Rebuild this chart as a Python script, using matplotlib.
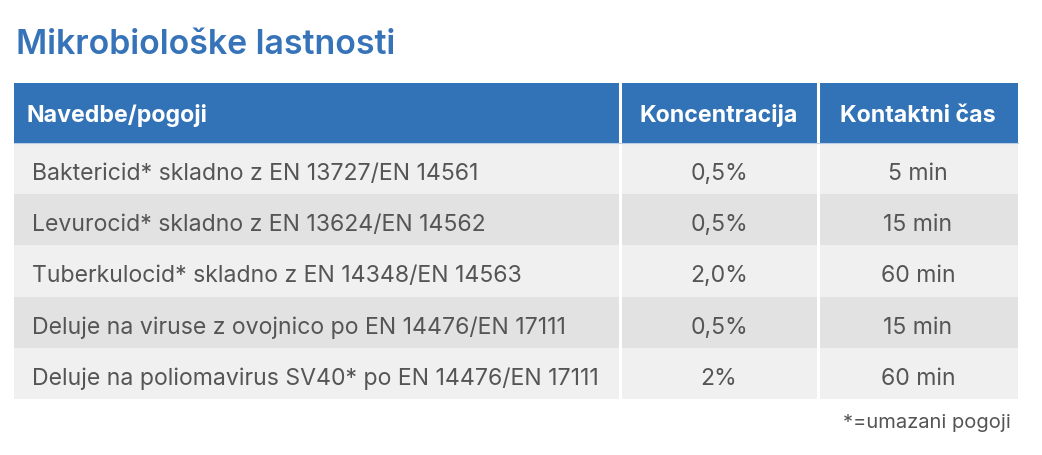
import matplotlib.pyplot as plt
from matplotlib.patches import Rectangle

# table content
title = 'Mikrobiološke lastnosti'
headers = ['Navedbe/pogoji', 'Koncentracija', 'Kontaktni čas']
claims = [
    'Baktericid* skladno z EN 13727/EN 14561',
    'Levurocid* skladno z EN 13624/EN 14562',
    'Tuberkulocid* skladno z EN 14348/EN 14563',
    'Deluje na viruse z ovojnico po EN 14476/EN 17111',
    'Deluje na poliomavirus SV40* po EN 14476/EN 17111',
]
concentration = ['0,5%', '0,5%', '2,0%', '0,5%', '2%']
contact_time = ['5 min', '15 min', '60 min', '15 min', '60 min']
footnote = '*=umazani pogoji'

blue = '#3272b6'
text_grey = '#555555'
row_colors = ['#f0f0f0', '#e2e2e2']

plt.rcParams['font.family'] = ['Inter', 'DejaVu Sans']

fig = plt.figure(figsize=(10.42, 4.56), dpi=100)
ax = fig.add_axes([0, 0, 1, 1])
ax.set_xlim(0, 1042)
ax.set_ylim(456, 0)
ax.axis('off')

# column edges and row geometry (pixels)
col_edges = [14, 620, 818, 1018]
head_top, head_bot = 84, 144
row_h = 51.2

ax.text(16, 54.5, title, fontsize=24.4, fontweight=600, color='#3673b8',
        va='baseline', ha='left')

# header
for c in range(3):
    x0, x1 = col_edges[c], col_edges[c + 1]
    if c == 0:
        tx, ha = x0 + 13, 'left'
    else:
        tx, ha = (x0 + x1) / 2, 'center'
    ax.add_patch(Rectangle((x0, head_top), x1 - x0, head_bot - head_top,
                           facecolor=blue, edgecolor='none'))
    ax.text(tx, 122.5, headers[c], fontsize=16.7,
            fontweight='bold', color='white', va='baseline', ha=ha)

# body rows
for r in range(len(claims)):
    y0 = head_bot + r * row_h
    yb = y0 + 36
    ax.add_patch(Rectangle((col_edges[0], y0), col_edges[3] - col_edges[0], row_h,
                           facecolor=row_colors[r % 2], edgecolor='none'))
    ax.text(col_edges[0] + 18, yb, claims[r], fontsize=16.6, color=text_grey,
            va='baseline', ha='left')
    ax.text((col_edges[1] + col_edges[2]) / 2, yb, concentration[r], fontsize=16.6,
            color=text_grey, va='baseline', ha='center')
    ax.text((col_edges[2] + col_edges[3]) / 2, yb, contact_time[r], fontsize=16.6,
            color=text_grey, va='baseline', ha='center')

table_bot = head_bot + len(claims) * row_h

# white column separators
for x in col_edges[1:3]:
    ax.plot([x, x], [head_top, table_bot], color='white', lw=2.2)

ax.plot([col_edges[0], col_edges[3]], [head_bot, head_bot], color='#b9cde6', lw=0.8)

ax.text(1011, 428, footnote, fontsize=14.5, color=text_grey, va='baseline', ha='right')

fig.savefig('out.png', dpi=100)
